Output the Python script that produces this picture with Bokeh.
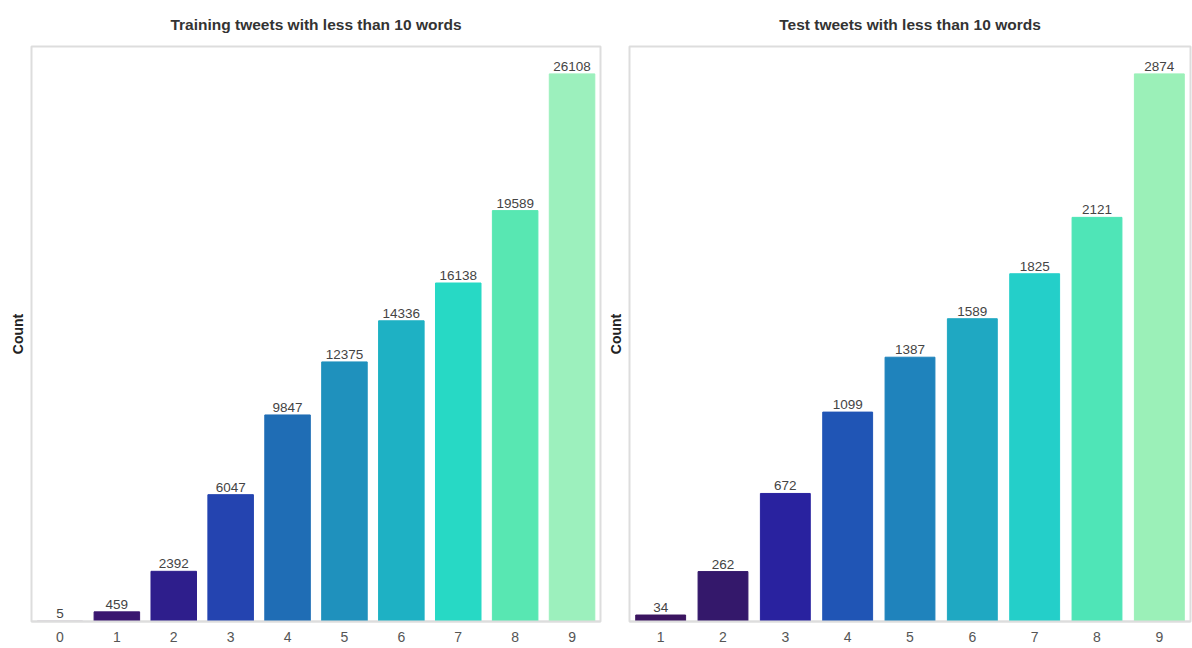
from bokeh.plotting import figure
from bokeh.layouts import row
from bokeh.models import ColumnDataSource, Range1d
from bokeh.core.properties import value
from bokeh.embed import file_html
from bokeh.resources import INLINE

train_words = ["0", "1", "2", "3", "4", "5", "6", "7", "8", "9"]
train_counts = [5, 459, 2392, 6047, 9847, 12375, 14336, 16138, 19589, 26108]
train_colors = ["#3b1358", "#3a1670", "#2e1e8c", "#2444b0", "#1f6db5",
                "#1f91bd", "#1eb1c4", "#27d9c5", "#58e7b2", "#9cf0bd"]

test_words = ["1", "2", "3", "4", "5", "6", "7", "8", "9"]
test_counts = [34, 262, 672, 1099, 1387, 1589, 1825, 2121, 2874]
test_colors = ["#3b1560", "#34186b", "#29229f", "#2055b5", "#1f83bc",
               "#1fa8c2", "#24cfc9", "#4fe5b7", "#9bf0b8"]

FONT = "Liberation Sans"


def make_panel(title, words, counts, colors, width, left, right):
    src = ColumnDataSource(dict(x=words, y=counts, c=colors,
                                t=[str(v) for v in counts]))
    p = figure(x_range=words, y_range=Range1d(0, max(counts) * 1.05),
               width=width, height=644, output_backend="svg",
               toolbar_location=None, title=title,
               min_border_left=left, min_border_right=right,
               min_border_top=46, min_border_bottom=18)
    p.vbar(x="x", top="y", width=0.8, fill_color="c", line_color="c", source=src)
    p.text(x="x", y="y", text="t", source=src, text_align="center",
           text_baseline="bottom", y_offset=-3, text_font=value(FONT),
           text_font_size="13.5px", text_color="#444444")
    p.title.align = "center"
    p.title.text_font = FONT
    p.title.text_font_size = "15.5px"
    p.title.text_font_style = "bold"
    p.title.text_color = "#333333"
    p.title.standoff = 27
    p.xgrid.grid_line_color = None
    p.ygrid.grid_line_color = None
    p.outline_line_color = "#dddddd"
    p.outline_line_width = 2
    p.yaxis.axis_label = "Count"
    p.yaxis.axis_label_text_font = FONT
    p.yaxis.axis_label_text_font_style = "bold"
    p.yaxis.axis_label_text_font_size = "14px"
    p.yaxis.axis_label_text_color = "#222222"
    p.yaxis.axis_label_standoff = 0
    p.yaxis.major_label_text_font_size = "0px"
    p.yaxis.major_tick_line_color = None
    p.yaxis.minor_tick_line_color = None
    p.yaxis.axis_line_color = None
    p.xaxis.axis_line_color = "#dddddd"
    p.xaxis.axis_line_width = 2
    p.xaxis.major_tick_line_color = None
    p.xaxis.minor_tick_line_color = None
    p.xaxis.major_label_standoff = 4
    p.xaxis.major_label_text_font = FONT
    p.xaxis.major_label_text_font_size = "14px"
    p.xaxis.major_label_text_color = "#555555"
    p.background_fill_color = "white"
    p.border_fill_color = "white"
    return p


p1 = make_panel("Training tweets with less than 10 words", train_words,
                train_counts, train_colors, 604, 31, 4)
p2 = make_panel("Test tweets with less than 10 words", test_words,
                test_counts, test_colors, 588, 25, 2)

layout = row(p1, p2, spacing=0)
open("out.html", "w").write(file_html(layout, INLINE))
